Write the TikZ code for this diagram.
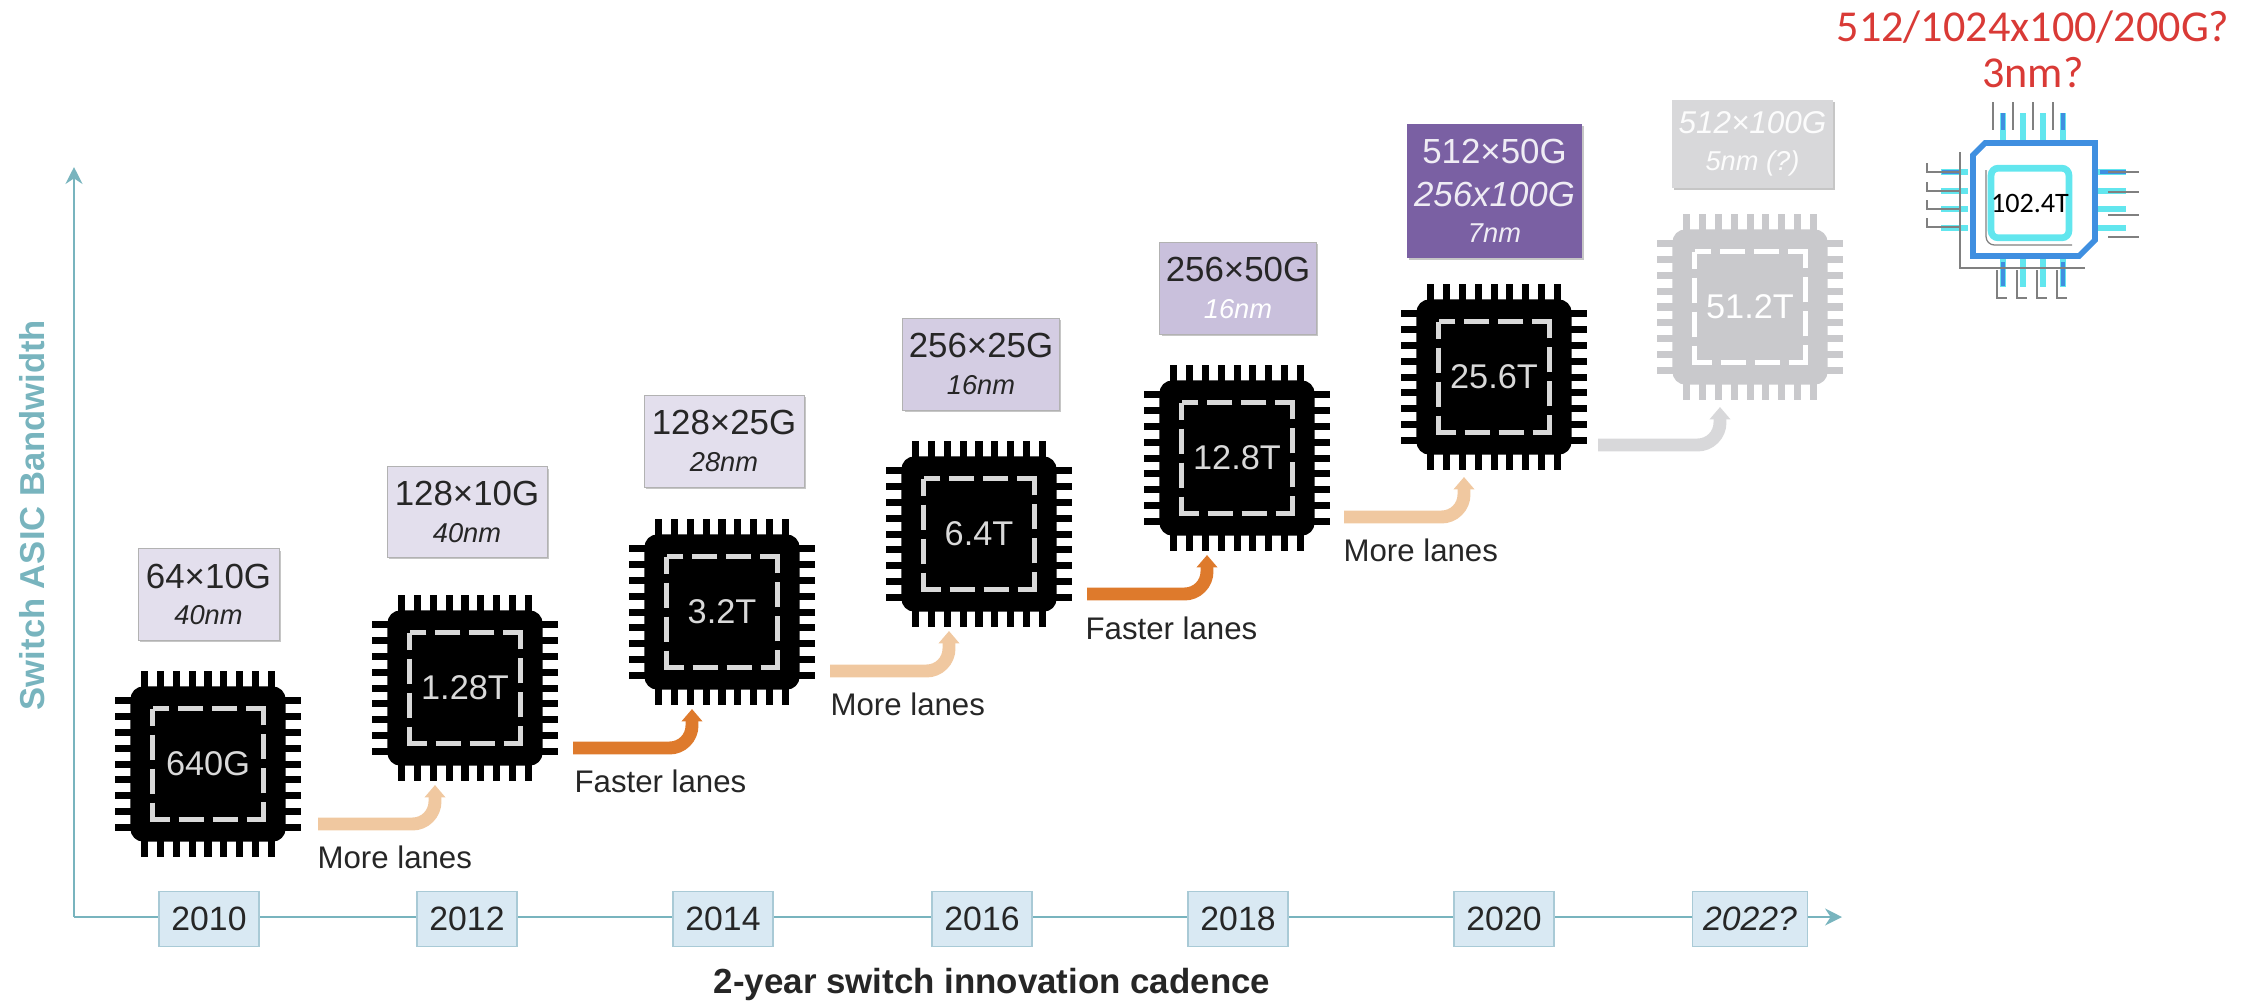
\documentclass[tikz,border=0pt]{standalone}
\usepackage{fontspec}
\setmainfont{Liberation Sans}
\newfontfamily\calfont{Carlito}
\usepackage{xcolor}
\usetikzlibrary{arrows.meta,positioning,calc,shadows}
\definecolor{axisc}{HTML}{78B4BE}
\definecolor{yearf}{HTML}{D9E9F3}
\definecolor{yeard}{HTML}{A9CAD6}
\definecolor{lila}{HTML}{E3DFED}
\definecolor{lilb}{HTML}{D4CDE3}
\definecolor{lilc}{HTML}{C9C0DC}
\definecolor{lild}{HTML}{7A60A3}
\definecolor{greyb}{HTML}{D8D8DA}
\definecolor{greyc}{HTML}{C9C9CC}
\definecolor{morec}{HTML}{F0C8A0}
\definecolor{fastc}{HTML}{DE7A2C}
\definecolor{redt}{HTML}{D93A36}
\definecolor{bluec}{HTML}{3F8FE0}
\definecolor{cyanc}{HTML}{62E6EE}
\newcommand{\nmfont}{\fontsize{9.7}{12}\selectfont\itshape}
\tikzset{
  swbox/.style={rectangle, inner sep=0pt, align=center, text=black!85,
                font=\fontsize{12.4}{13}\selectfont, draw=black!30, line width=0.3pt,
                drop shadow={shadow xshift=0.7pt, shadow yshift=-0.7pt, opacity=0.45}},
  chipn/.style={rectangle, inner sep=0pt, rounded corners=4.6pt, minimum size=1.94cm,
                font=\fontsize{12.2}{14}\selectfont},
  pinl/.style={line width=2.5pt},
  diel/.style={line width=1.6pt, dash pattern=on 0.425cm off 0.1125cm on 0.3125cm off 0.1125cm on 0.3125cm off 0.1125cm, dash phase=0.2125cm},
  yearn/.style={rectangle, draw=yeard, fill=yearf, line width=0.5pt, minimum height=0.69cm,
                minimum width=1.25cm, inner sep=0pt, font=\fontsize{12}{14}\selectfont, text=black!85},
  axisl/.style={draw=axisc, line width=0.8pt, -{Stealth[length=6pt,width=6pt]}},
  lanear/.style={line width=4.6pt, rounded corners=8pt, -{Triangle[length=4.4pt,width=7.2pt]}},
  lbl/.style={font=\fontsize{11.1}{12}\selectfont, text=black!85, inner sep=0pt, anchor=west},
  tpin/.style={line width=2pt, draw=cyanc},
  bpin/.style={line width=1.1pt, draw=bluec},
  gpin/.style={line width=0.45pt, draw=black!50},
}
% one chip: name, x, y, colour, dashes, text
\newcommand{\chipat}[6]{
  \node[chipn, fill=#4, text=#5] (#1) at (#2,#3) {#6};
  \foreach \k in {-4,...,4} {
    \draw[pinl, draw=#4] (#2+\k*15.8,#3-77) -- ++(0,-16);
    \draw[pinl, draw=#4] (#2+\k*15.8,#3+77) -- ++(0,16);
    \draw[pinl, draw=#4] (#2-77,#3+\k*15.8) -- ++(-16,0);
    \draw[pinl, draw=#4] (#2+77,#3+\k*15.8) -- ++(16,0);
  }
  \draw[diel, draw=#5] (#2-55.5,#3-55.5) rectangle (#2+55.5,#3+55.5);
}
\begin{document}
\begin{tikzpicture}[x=0.0125cm, y=-0.0125cm]
  \useasboundingbox (0,0) rectangle (2259,1001);

  % axes
  \coordinate (orig) at (74,917);
  \coordinate (xend) at (1842,917);
  \coordinate (yend) at (74,167);
  \draw[axisl] (orig) -- (xend);
  \draw[axisl] (orig) -- (yend);
  \node[font=\fontsize{12.3}{14}\selectfont\bfseries, text=axisc, rotate=90] (ylab) at (32,515)
       {Switch ASIC Bandwidth};
  \node[font=\fontsize{12.4}{14}\selectfont\bfseries, text=black!85] (xlab) at (992,984)
       {2-year switch innovation cadence};

  \node[yearn] (y10) at (209,919) {2010};
  \node[yearn] (y12) at (467,919) {2012};
  \node[yearn] (y14) at (723,919) {2014};
  \node[yearn] (y16) at (982,919) {2016};
  \node[yearn] (y18) at (1238,919) {2018};
  \node[yearn] (y20) at (1504,919) {2020};
  \node[yearn, minimum width=1.44cm] (y22) at (1750,919) {\itshape 2022?};

  % chips
  \chipat{c640}{208}{764}{black}{white!85!black}{640G}
  \chipat{c128}{465}{688}{black}{white!85!black}{1.28T}
  \chipat{c32}{722}{612}{black}{white!85!black}{3.2T}
  \chipat{c64}{979}{534}{black}{white!85!black}{6.4T}
  \chipat{c128b}{1237}{458}{black}{white!85!black}{12.8T}
  \chipat{c256}{1494}{377}{black}{white!85!black}{25.6T}
  \chipat{c512}{1750}{307}{greyc}{white}{51.2T}

  % boxes over the chips
  \node[swbox, fill=lila, minimum width=1.76cm, minimum height=1.14cm] (b640) at (208.5,594.5)
       {64×10G\\{\nmfont 40nm}};
  \node[swbox, fill=lila, minimum width=2cm, minimum height=1.13cm] (b128) at (467,512)
       {128×10G\\{\nmfont 40nm}};
  \node[swbox, fill=lila, minimum width=2cm, minimum height=1.15cm] (b32) at (724,441)
       {128×25G\\{\nmfont 28nm}};
  \node[swbox, fill=lilb, minimum width=1.96cm, minimum height=1.15cm] (b64) at (981,364)
       {256×25G\\{\nmfont 16nm}};
  \node[swbox, fill=lilc, minimum width=1.96cm, minimum height=1.15cm] (b128b) at (1238,288)
       {256×50G\\{\color{white}\nmfont 16nm}};
  \node[swbox, fill=lild, text=white!88!lild, draw=none, minimum width=2.19cm, minimum height=1.68cm] (b256) at (1494.5,191)
       {512×50G\\[2.3pt]{\itshape 256x100G}\\{\nmfont 7nm}};
  \node[swbox, fill=greyb, text=white!92!greyb, draw=none, minimum width=2.01cm, minimum height=1.1cm,
        font=\fontsize{11.2}{13}\selectfont] (b512) at (1752.5,144)
       {{\itshape 512×100G}\\{\nmfont 5nm (?)}};

  % steps between the chips
  \draw[lanear, draw=morec] ([shift={(32,60)}]c640.east) -| ([shift={(-30,97)}]c128.center);
  \draw[lanear, draw=fastc] ([shift={(30,60)}]c128.east) -| ([shift={(-30,97)}]c32.center);
  \draw[lanear, draw=morec] ([shift={(30,59)}]c32.east) -| ([shift={(-30,97)}]c64.center);
  \draw[lanear, draw=fastc] ([shift={(30,60)}]c64.east) -| ([shift={(-30,97)}]c128b.center);
  \draw[lanear, draw=morec] ([shift={(29,59)}]c128b.east) -| ([shift={(-30,100)}]c256.center);
  \draw[lanear, draw=greyb] ([shift={(26,68)}]c256.east) -| ([shift={(-30,100)}]c512.center);

  \node[lbl] (t1) at (317,857) {More lanes};
  \node[lbl] (t2) at (574,781) {Faster lanes};
  \node[lbl] (t3) at (830,704) {More lanes};
  \node[lbl] (t4) at (1085,628) {Faster lanes};
  \node[lbl] (t5) at (1343,550) {More lanes};

  % the small chip, top right
  \node[text=redt, font=\fontsize{15.7}{16.4}\selectfont\calfont, align=center, inner sep=0pt] (qt) at (2033,49)
       {512/1024x100/200G?\\3nm?};
  \foreach \p in {2003,2023,2043,2063} {
    \draw[tpin] (\p,113) -- (\p,140);
    \draw[tpin] (\p,258) -- (\p,287);
    \draw[gpin] (\p-10,102) -- (\p-10,130);
    \draw[gpin] (\p-6,270) -- (\p-6,298) -- ++(10,0);
  }
  \foreach \p in {172,191,209,228} {
    \draw[tpin] (1941,\p) -- (1968,\p);
    \draw[tpin] (2098,\p) -- (2126,\p);
  }
  \draw[bpin] (1942,172) -- (1960,172);
  \draw[bpin] (2100,172) -- (2126,172);
  \draw[bpin] (2003,113) -- (2003,130);
  \draw[bpin] (2063,113) -- (2063,130);
  \draw[bpin] (2003,262) -- (2003,286);
  \draw[bpin] (2063,262) -- (2063,286);
  \foreach \p/\q in {172/163,191/182,209/200,228/218} {
    \draw[gpin] (1927,\q) -- (1927,\q+9) -- (1961,\q+9);
  }
  \foreach \p in {172,192,215,237} {
    \draw[gpin] (2108,\p) -- (2139,\p);
  }
  \draw[gpin] (1960,152) -- (1960,268) -- (2085,268);
  \draw[gpin, rounded corners=3pt] (1986,170) -- (1986,245) -- (2072,245);
  \draw[bluec, line width=2pt] (1973,155) -- (1985,143) -- (2095,143) -- (2095,240) -- (2079,256) -- (1973,256) -- cycle;
  \node[draw=cyanc, line width=2.4pt, rounded corners=2.5pt, minimum width=0.92cm, minimum height=0.87cm,
        inner sep=0pt, font=\fontsize{10}{12}\selectfont\calfont] (c1024) at (2030,203) {102.4T};
\end{tikzpicture}
\end{document}
